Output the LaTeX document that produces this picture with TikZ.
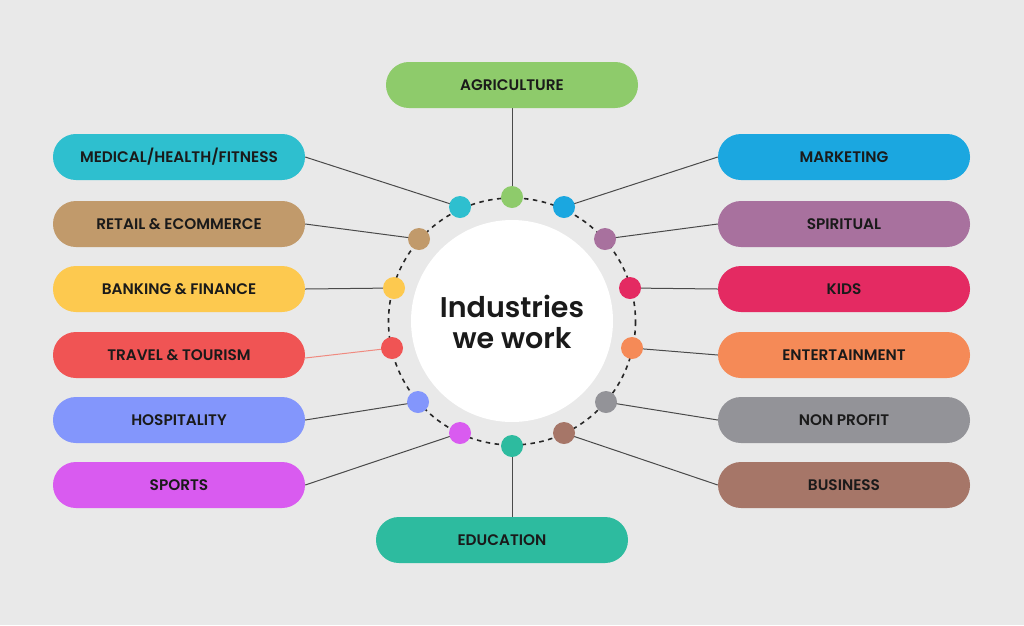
\documentclass[tikz,border=0pt]{standalone}
\usepackage{fontspec}
\setmainfont{Poppins}[UprightFont=* Medium, BoldFont=* SemiBold]
\pgfdeclarelayer{bg}
\pgfdeclarelayer{lines}
\pgfsetlayers{bg,lines,main}
\definecolor{bgc}{HTML}{E9E9E9}
\definecolor{linegray}{HTML}{4A4A4A}
\definecolor{travline}{HTML}{F08A80}
\definecolor{cAgri}{HTML}{8ECB6B}
\definecolor{cMed}{HTML}{2EBFCF}
\definecolor{cRet}{HTML}{C19A6B}
\definecolor{cBank}{HTML}{FDC94F}
\definecolor{cTrav}{HTML}{F05454}
\definecolor{cHosp}{HTML}{8396FC}
\definecolor{cSport}{HTML}{D95BF0}
\definecolor{cEdu}{HTML}{2DBB9F}
\definecolor{cMkt}{HTML}{1BA7E0}
\definecolor{cSpir}{HTML}{A8719E}
\definecolor{cKids}{HTML}{E42A62}
\definecolor{cEnt}{HTML}{F58A57}
\definecolor{cNon}{HTML}{939398}
\definecolor{cBus}{HTML}{A67668}
\definecolor{txt}{HTML}{1A1A1A}
\tikzset{
  pill/.style={rectangle, rounded corners=22.9pt, minimum width=252pt, minimum height=46pt,
    inner sep=0pt, text=txt, font=\bfseries\fontsize{15.3}{18}\selectfont},
  dotc/.style={circle, minimum size=22pt, inner sep=0pt},
  conn/.style={draw=linegray, line width=1pt},
}
\begin{document}
\begin{tikzpicture}[x=1pt,y=-1pt]
\begin{pgfonlayer}{bg}
\fill[bgc] (0,0) rectangle (1024,625);
\end{pgfonlayer}
\useasboundingbox (0,0) rectangle (1024,625);
% ring
\draw[black!85, line width=1.6pt, dash pattern=on 4.5pt off 4.5pt] (512,321.5) circle[radius=123.5];
\node[circle, fill=white, minimum size=202pt, inner sep=0pt] (hub) at (512,321) {};
\node[align=center, text=txt, font=\bfseries\fontsize{28.5}{31}\selectfont] (title) at (512,322) {Industries\\we work};
% pills
\node[pill, fill=cAgri] (agri) at (512,85) {AGRICULTURE};
\node[pill, fill=cEdu] (edu) at (502,540) {EDUCATION};
\node[pill, fill=cMed] (med) at (179,157) {MEDICAL/HEALTH/FITNESS};
\node[pill, fill=cRet] (ret) at (179,224) {RETAIL \& ECOMMERCE};
\node[pill, fill=cBank] (bank) at (179,289) {BANKING \& FINANCE};
\node[pill, fill=cTrav] (trav) at (179,355) {TRAVEL \& TOURISM};
\node[pill, fill=cHosp] (hosp) at (179,420) {HOSPITALITY};
\node[pill, fill=cSport] (sport) at (179,485) {SPORTS};
\node[pill, fill=cMkt] (mkt) at (844,157) {MARKETING};
\node[pill, fill=cSpir] (spir) at (844,224) {SPIRITUAL};
\node[pill, fill=cKids] (kids) at (844,289) {KIDS};
\node[pill, fill=cEnt] (ent) at (844,355) {ENTERTAINMENT};
\node[pill, fill=cNon] (non) at (844,420) {NON PROFIT};
\node[pill, fill=cBus] (bus) at (844,485) {BUSINESS};
% dots
\node[dotc, fill=cAgri] (dAgri) at (512,197) {};
\node[dotc, fill=cEdu] (dEdu) at (512,446) {};
\node[dotc, fill=cMed] (dMed) at (460,207) {};
\node[dotc, fill=cRet] (dRet) at (419,239) {};
\node[dotc, fill=cBank] (dBank) at (394,288) {};
\node[dotc, fill=cTrav] (dTrav) at (392,348) {};
\node[dotc, fill=cHosp] (dHosp) at (418,402) {};
\node[dotc, fill=cSport] (dSport) at (460,433) {};
\node[dotc, fill=cMkt] (dMkt) at (564,207) {};
\node[dotc, fill=cSpir] (dSpir) at (605,239) {};
\node[dotc, fill=cKids] (dKids) at (630,288) {};
\node[dotc, fill=cEnt] (dEnt) at (632,348) {};
\node[dotc, fill=cNon] (dNon) at (606,402) {};
\node[dotc, fill=cBus] (dBus) at (564,433) {};
% connectors
\begin{pgfonlayer}{lines}
\draw[conn] (agri.south) -- (dAgri.center);
\draw[conn] (dEdu.center) -- (dEdu.center |- edu.north);
\draw[conn] (med.east) -- (dMed.center);
\draw[conn] (ret.east) -- (dRet.center);
\draw[conn] (bank.east) -- (dBank.center);
\draw[draw=travline, line width=1pt] ([yshift=-3pt]trav.east) -- (dTrav.center);
\draw[conn] (hosp.east) -- (dHosp.center);
\draw[conn] (sport.east) -- (dSport.center);
\draw[conn] (mkt.west) -- (dMkt.center);
\draw[conn] (spir.west) -- (dSpir.center);
\draw[conn] (kids.west) -- (dKids.center);
\draw[conn] (ent.west) -- (dEnt.center);
\draw[conn] (non.west) -- (dNon.center);
\draw[conn] (bus.west) -- (dBus.center);
\end{pgfonlayer}
\end{tikzpicture}
\end{document}
